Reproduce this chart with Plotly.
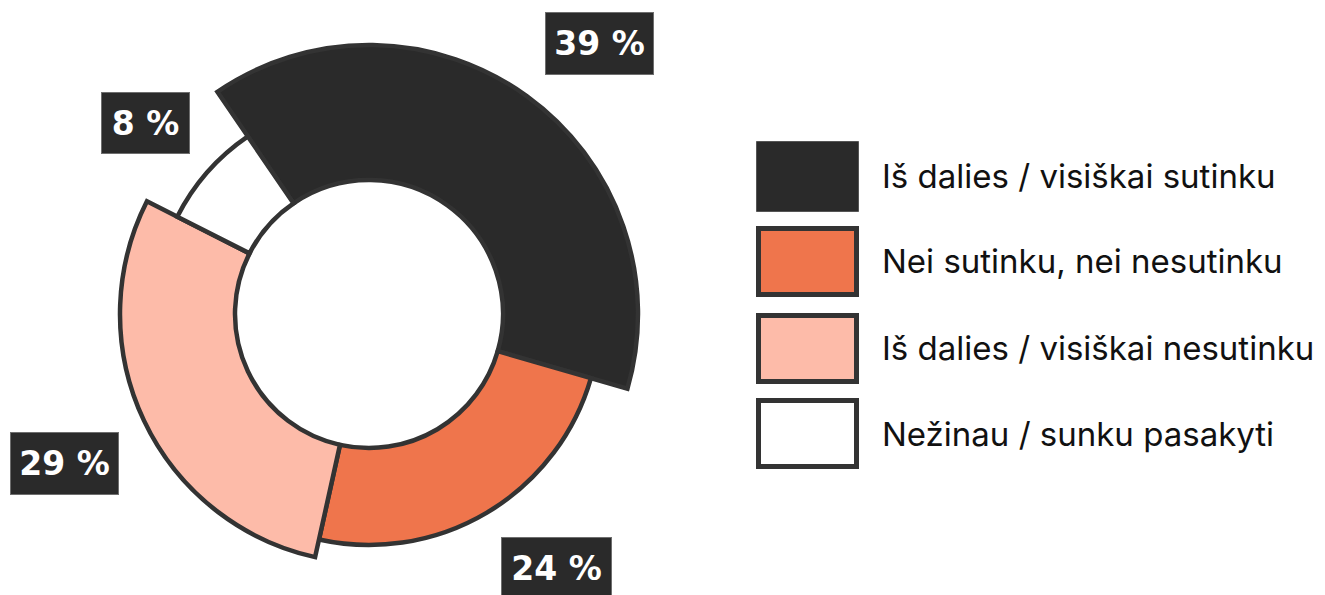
import math
import plotly.graph_objects as go

# ---------------- data ----------------
categories = [
    "Iš dalies / visiškai sutinku",
    "Nei sutinku, nei nesutinku",
    "Iš dalies / visiškai nesutinku",
    "Nežinau / sunku pasakyti",
]
values = [39, 24, 29, 8]
value_labels = ["39 %", "24 %", "29 %", "8 %"]

# ---------------- style ----------------
OFF = 8                                 # page body margin
W, H = 1325 - OFF, 595 - OFF
colors = ["#2a2a2a", "#ef754c", "#fdbba9", "#ffffff"]
outline = "#333333"
outer_radius = [269, 231, 249, 215]     # variable outer radius per slice (px units)
inner_radius = 134
start_angle = -34.3                     # degrees clockwise from 12 o'clock
cx, cy, R = 369 - OFF, 314 - OFF, 280   # polar centre (px in figure) and radial range
label_radius = [355, 316, 339, 294]
label_angle_shift = [4.5, -5.8, -0.8, -0.9]
label_box = [(109, 63), (111, 63), (109, 63), (89, 62)]


def px(x, y):
    return x / W, 1 - y / H


total = sum(values)
widths = [v / total * 360 for v in values]
thetas = []
acc = start_angle
for w in widths:
    thetas.append(acc + w / 2)
    acc += w

fig = go.Figure()
fig.add_trace(go.Barpolar(
    r=[o - inner_radius for o in outer_radius],
    base=[inner_radius] * len(values),
    theta=thetas,
    width=widths,
    marker=dict(color=colors, line=dict(color=outline, width=4.5)),
    hoverinfo="skip",
    showlegend=False,
))

fig.update_layout(
    width=W, height=H,
    margin=dict(l=0, r=0, t=0, b=0),
    paper_bgcolor="white",
    plot_bgcolor="white",
    showlegend=False,
    polar=dict(
        domain=dict(x=[(cx - R) / W, (cx + R) / W],
                    y=[max(0, (H - cy - R) / H), (H - cy + R) / H]),
        bgcolor="rgba(0,0,0,0)",
        radialaxis=dict(visible=False, range=[0, R], showgrid=False),
        angularaxis=dict(visible=False, rotation=90, direction="clockwise",
                         showgrid=False),
        bargap=0,
    ),
)

# value labels (dark boxes)
for i, txt in enumerate(value_labels):
    a = math.radians(thetas[i] + label_angle_shift[i])
    x = cx + label_radius[i] * math.sin(a)
    y = cy - label_radius[i] * math.cos(a)
    bw, bh = label_box[i]
    ax, ay = px(x, y)
    fig.add_annotation(
        x=ax, y=ay, xref="paper", yref="paper",
        text=f"<b>{txt}</b>", showarrow=False,
        xanchor="center", yanchor="middle",
        font=dict(family="DejaVu Sans", size=33, color="white"),
        bgcolor="#2a2a2a", bordercolor="#6e6e6e", borderwidth=1, borderpad=0,
        width=bw - 2, height=bh - 2, align="center", valign="middle",
    )

# custom legend with large swatches
leg_x0, leg_x1 = 756 - OFF, 859 - OFF
leg_tops = [141 - OFF, 226 - OFF, 313 - OFF, 398 - OFF]
sw_h = 71
for i, name in enumerate(categories):
    top = leg_tops[i]
    lw = 1 if i == 0 else 5
    lc = "#555555" if i == 0 else outline
    x0, y0 = px(leg_x0 + lw / 2, top + lw / 2)
    x1, y1 = px(leg_x1 - lw / 2, top + sw_h - lw / 2)
    fig.add_shape(
        type="rect", xref="paper", yref="paper",
        x0=x0, x1=x1, y0=y0, y1=y1,
        fillcolor=colors[i], line=dict(color=lc, width=lw),
    )
    tx, ty = px(880 - OFF, top + sw_h / 2)
    fig.add_annotation(
        x=tx, y=ty, xref="paper", yref="paper",
        text=name, showarrow=False, xanchor="left", yanchor="middle",
        font=dict(family="Inter", size=33, color="#111111"),
    )

fig.write_html("out.html")
